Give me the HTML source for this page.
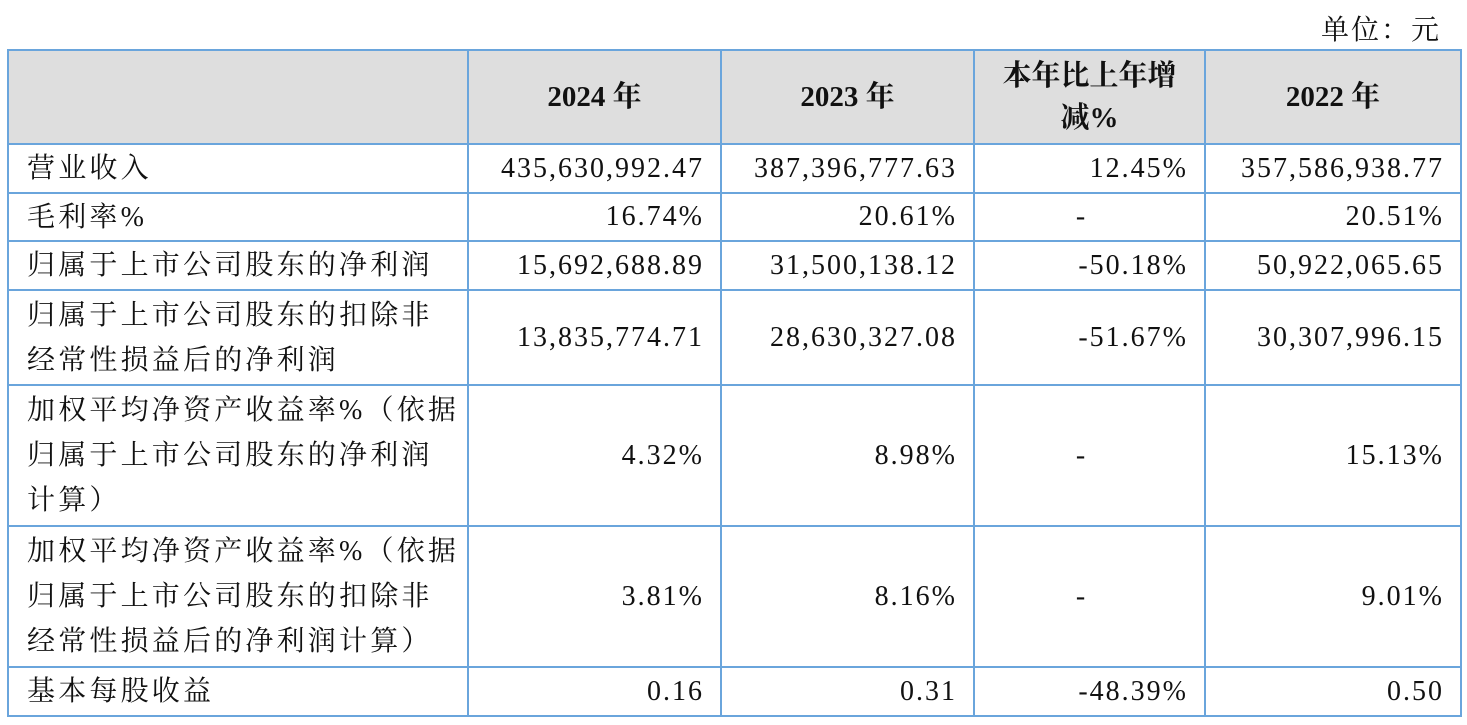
<!DOCTYPE html>
<html><head><meta charset="utf-8"><style>
body{margin:0;background:#fff;width:1467px;height:725px;position:relative;overflow:hidden;font-family:"Liberation Serif","Noto Serif CJK SC",serif;color:#111;}
.unit{position:absolute;right:26px;top:8px;font-size:28px;letter-spacing:2px;}
table{position:absolute;left:7px;top:49px;border-collapse:collapse;table-layout:fixed;}
td{border:2px solid #6aa5dc;font-size:28px;padding:0;}
td.l{padding-left:18px;line-height:45px;text-align:left;letter-spacing:3.2px;}
td.n{text-align:right;padding-right:16px;letter-spacing:2px;}
tr.h td{background:#dedede;font-weight:bold;text-align:center;line-height:42px;font-size:29px;}
</style></head><body>
<div class="unit">单位：元</div>
<table>
<colgroup><col style="width:460px"><col style="width:253px"><col style="width:253px"><col style="width:231px"><col style="width:256px"></colgroup>
<tr class="h" style="height:94px"><td></td><td>2024 年</td><td>2023 年</td><td>本年比上年增<br>减%</td><td>2022 年</td></tr>
<tr style="height:49px"><td class="l">营业收入</td><td class="n">435,630,992.47</td><td class="n">387,396,777.63</td><td class="n">12.45%</td><td class="n">357,586,938.77</td></tr>
<tr style="height:48px"><td class="l">毛利率%</td><td class="n">16.74%</td><td class="n">20.61%</td><td class="n" style="text-align:center">-</td><td class="n">20.51%</td></tr>
<tr style="height:49px"><td class="l">归属于上市公司股东的净利润</td><td class="n">15,692,688.89</td><td class="n">31,500,138.12</td><td class="n">-50.18%</td><td class="n">50,922,065.65</td></tr>
<tr style="height:95px"><td class="l">归属于上市公司股东的扣除非<br>经常性损益后的净利润</td><td class="n">13,835,774.71</td><td class="n">28,630,327.08</td><td class="n">-51.67%</td><td class="n">30,307,996.15</td></tr>
<tr style="height:141px"><td class="l">加权平均净资产收益率%（依据<br>归属于上市公司股东的净利润<br>计算）</td><td class="n">4.32%</td><td class="n">8.98%</td><td class="n" style="text-align:center">-</td><td class="n">15.13%</td></tr>
<tr style="height:141px"><td class="l">加权平均净资产收益率%（依据<br>归属于上市公司股东的扣除非<br>经常性损益后的净利润计算）</td><td class="n">3.81%</td><td class="n">8.16%</td><td class="n" style="text-align:center">-</td><td class="n">9.01%</td></tr>
<tr style="height:49px"><td class="l">基本每股收益</td><td class="n">0.16</td><td class="n">0.31</td><td class="n">-48.39%</td><td class="n">0.50</td></tr>
</table>
</body></html>
